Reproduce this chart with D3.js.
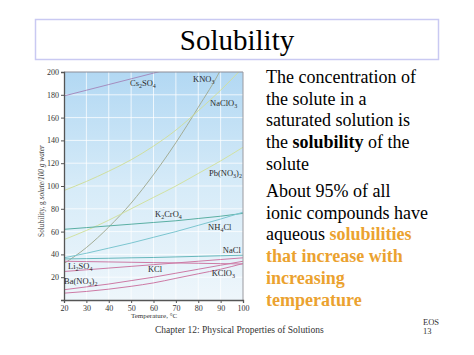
<!DOCTYPE html>
<html>
<head>
<meta charset="utf-8">
<script src="https://cdn.jsdelivr.net/npm/d3@7"></script>
<style>
  html, body { margin: 0; padding: 0; background: #fff; }
  svg { display: block; }
  text { font-family: "Liberation Serif", "Times New Roman", serif; }
</style>
</head>
<body>
<div id="chart"></div>
<script>
// ---- data ----
const temps    = [20, 30, 40, 50, 60, 70, 80, 90, 100];
const Cs2SO4   = [179, 184, 189, 194, 199, 204, 209, 214, 219];
const KNO3     = [32, 46, 64, 85, 110, 138, 169, 202, 246];
const NaClO3   = [96, 104, 113, 123, 135, 149, 166, 184, 204];
const PbNO32   = [53, 61, 70, 80, 90, 100, 111, 122, 134];
const K2CrO4   = [62, 63.5, 65, 66.5, 68, 69.5, 71.5, 73.5, 76];
const NH4Cl    = [37, 41, 45.5, 50, 55, 60, 65.5, 71, 77];
const NaCl     = [36, 36.3, 36.6, 37, 37.3, 37.8, 38.3, 38.8, 39.3];
const Li2SO4   = [34, 33.7, 33.4, 33.1, 32.8, 32.5, 32.2, 31.9, 31.6];
const KCl      = [25, 26.5, 28, 29.5, 31, 32.5, 34, 35.5, 37];
const BaNO32   = [9, 11.5, 14, 17, 20, 23.5, 27, 30.5, 34];
const KClO3    = [6, 7.5, 9.5, 12, 15, 19, 23, 27, 32];

const xTicks = [20, 30, 40, 50, 60, 70, 80, 90, 100];
const yTicks = [20, 40, 60, 80, 100, 120, 140, 160, 180, 200];

// series: name parts [text, isSubscript], values, colour, label anchor in data space
const series = [
  {parts: [["Cs",0],["2",1],["SO",0],["4",1]], values: Cs2SO4, color: "#a58dbf", at: [49.5, 187.7]},
  {parts: [["KNO",0],["3",1]], values: KNO3, color: "#a3ad96", at: [77.7, 191]},
  {parts: [["NaClO",0],["3",1]], values: NaClO3, color: "#d0df9e", at: [85.3, 170]},
  {parts: [["Pb(NO",0],["3",1],[")",0],["2",1]], values: PbNO32, color: "#d2e2a2", at: [84.8, 108.8]},
  {parts: [["K",0],["2",1],["CrO",0],["4",1]], values: K2CrO4, color: "#5aafa3", at: [60.7, 72.8]},
  {parts: [["NH",0],["4",1],["Cl",0]], values: NH4Cl, color: "#7cc6d0", at: [84.4, 61.4]},
  {parts: [["NaCl",0]], values: NaCl, color: "#68b8bc", at: [91, 41.2]},
  {parts: [["Li",0],["2",1],["SO",0],["4",1]], values: Li2SO4, color: "#cd7aa5", at: [21.8, 27.2]},
  {parts: [["KCl",0]], values: KCl, color: "#cd7aa5", at: [57.5, 24.6]},
  {parts: [["Ba(NO",0],["3",1],[")",0],["2",1]], values: BaNO32, color: "#cd7aa5", at: [20, 14]},
  {parts: [["KClO",0],["3",1]], values: KClO3, color: "#cd7aa5", at: [86, 21]}
];

const W = 474, H = 355;
const svg = d3.select("#chart").append("svg").attr("width", W).attr("height", H);

// ---- title box ----
svg.append("rect").attr("x", 35.5).attr("y", 19.5).attr("width", 403).attr("height", 40)
  .attr("fill", "#fff").attr("stroke", "#c9c9f2").attr("stroke-width", 1.5);
svg.append("text").attr("x", 237).attr("y", 50).attr("text-anchor", "middle")
  .attr("font-size", 29).attr("fill", "#000").text("Solubility");

// ---- chart ----
const x = d3.scaleLinear().domain([20, 100]).range([64, 243]);
const y = d3.scaleLinear().domain([0, 200]).range([300, 72]);

const defs = svg.append("defs");
const grad = defs.append("linearGradient").attr("id", "bg").attr("x1", 0).attr("y1", 0).attr("x2", 0).attr("y2", 1);
grad.append("stop").attr("offset", "0%").attr("stop-color", "#b2d8f3");
grad.append("stop").attr("offset", "50%").attr("stop-color", "#d6ebf8");
grad.append("stop").attr("offset", "100%").attr("stop-color", "#eef6fb");
defs.append("clipPath").attr("id", "plotclip").append("rect")
  .attr("x", x(20)).attr("y", y(200)).attr("width", x(100) - x(20)).attr("height", y(0) - y(200));

svg.append("rect").attr("x", x(20)).attr("y", y(200)).attr("width", x(100) - x(20)).attr("height", y(0) - y(200))
  .attr("fill", "url(#bg)");

// grid
const grid = svg.append("g");
grid.selectAll("line.v").data(xTicks.slice(1, -1)).join("line")
  .attr("x1", d => x(d)).attr("x2", d => x(d)).attr("y1", y(0)).attr("y2", y(200))
  .attr("stroke", "#ffffff").attr("stroke-opacity", 0.75).attr("stroke-width", 1);
grid.selectAll("line.h").data(yTicks.slice(0, -1)).join("line")
  .attr("x1", x(20)).attr("x2", x(100)).attr("y1", d => y(d)).attr("y2", d => y(d))
  .attr("stroke", "#ffffff").attr("stroke-opacity", 0.75).attr("stroke-width", 1);

// curves
const line = d3.line().x((d, i) => x(temps[i])).y(d => y(d)).curve(d3.curveMonotoneX);
const curves = svg.append("g").attr("clip-path", "url(#plotclip)");
curves.selectAll("path").data(series).join("path")
  .attr("d", s => line(s.values))
  .attr("fill", "none").attr("stroke", s => s.color).attr("stroke-width", 1);

// frame (top & right)
svg.append("line").attr("x1", x(20)).attr("x2", x(100)).attr("y1", y(200)).attr("y2", y(200))
  .attr("stroke", "#8c8c96").attr("stroke-width", 1);
svg.append("line").attr("x1", x(100)).attr("x2", x(100)).attr("y1", y(200)).attr("y2", y(0))
  .attr("stroke", "#9a9aa0").attr("stroke-width", 1);

// axes
const xAxis = d3.axisBottom(x).tickValues(xTicks).tickSize(3).tickPadding(2);
const yAxis = d3.axisLeft(y).tickValues(yTicks).tickSize(3).tickPadding(2);
const gx = svg.append("g").attr("transform", `translate(0,${y(0)})`).call(xAxis);
const gy = svg.append("g").attr("transform", `translate(${x(20)},0)`).call(yAxis);
[gx, gy].forEach(g => {
  g.attr("font-family", null);
  g.select(".domain").attr("stroke", "#555").attr("stroke-width", 1.3);
  g.selectAll(".tick line").attr("stroke", "#555");
  g.selectAll(".tick text").attr("font-size", 8).attr("fill", "#333");
});

// axis titles
svg.append("text").attr("x", 154).attr("y", 318).attr("text-anchor", "middle")
  .attr("font-size", 7).attr("fill", "#333").text("Temperature, °C");
const yt = svg.append("text").attr("transform", "translate(44,191) rotate(-90)")
  .attr("text-anchor", "middle").attr("font-size", 7.3).attr("fill", "#333");
yt.append("tspan").text("Solubility, g ");
yt.append("tspan").attr("font-style", "italic").text("solute/100 g water");

// curve labels
const labels = svg.append("g");
series.forEach(s => {
  const t = labels.append("text").attr("x", x(s.at[0])).attr("y", y(s.at[1]))
    .attr("font-size", 8.5).attr("fill", "#2a2a2a");
  let lowered = false;
  s.parts.forEach(([txt, sub]) => {
    if (sub) {
      t.append("tspan").attr("font-size", 6).attr("dy", lowered ? 0 : 2).text(txt);
      lowered = true;
    } else {
      t.append("tspan").attr("dy", lowered ? -2 : 0).text(txt);
      lowered = false;
    }
  });
});

// ---- right-hand text ----
const tx = 266;
const lh = 21.7;
const para1 = [
  [["The concentration of", 0]],
  [["the solute in a", 0]],
  [["saturated solution is", 0]],
  [["the ", 0], ["solubility", 1], [" of the", 0]],
  [["solute", 0]]
];
const para2 = [
  [["About 95% of all", 0]],
  [["ionic compounds have", 0]],
  [["aqueous ", 0], ["solubilities", 2]],
  [["that increase with", 2]],
  [["increasing", 2]],
  [["temperature", 2]]
];
function drawPara(lines, y0) {
  lines.forEach((ln, i) => {
    const t = svg.append("text").attr("x", tx).attr("y", y0 + i * lh).attr("font-size", 18)
      .attr("xml:space", "preserve");
    ln.forEach(([txt, st]) => {
      const sp = t.append("tspan").text(txt);
      if (st === 1) sp.attr("font-weight", "bold").attr("fill", "#000");
      else if (st === 2) sp.attr("font-weight", "bold").attr("fill", "#eba22f");
      else sp.attr("fill", "#000");
    });
  });
}
drawPara(para1, 83);
drawPara(para2, 197);

// footer
svg.append("text").attr("x", 155).attr("y", 333).attr("font-size", 9.5).attr("fill", "#333")
  .text("Chapter 12: Physical Properties of Solutions");
svg.append("text").attr("x", 423).attr("y", 325).attr("font-size", 8.5).attr("fill", "#333").text("EOS");
svg.append("text").attr("x", 423).attr("y", 333.5).attr("font-size", 8.5).attr("fill", "#333").text("13");
</script>
</body>
</html>
